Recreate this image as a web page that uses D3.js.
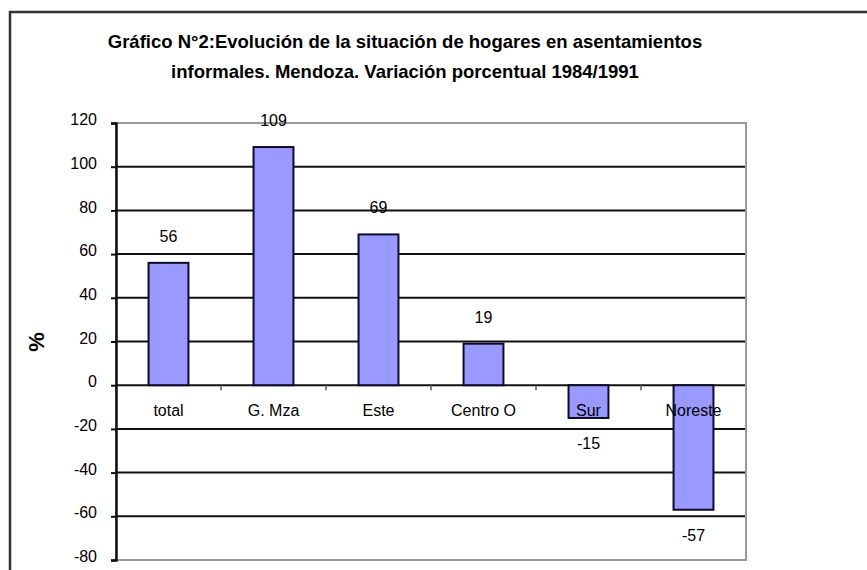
<!DOCTYPE html>
<html>
<head>
<meta charset="utf-8">
<script src="https://cdn.jsdelivr.net/npm/d3@7"></script>
<style>
  body { margin: 0; background: #fff; }
  svg { display: block; font-family: "Liberation Sans", Arial, sans-serif; }
</style>
</head>
<body>
<div id="grafico"></div>
<script>
const categorias = ["total", "G. Mza", "Este", "Centro O", "Sur", "Noreste"];
const valores = [56, 109, 69, 19, -15, -57];
const ticksY = [-80, -60, -40, -20, 0, 20, 40, 60, 80, 100, 120];
const titulo = [
    "Gráfico N°2:Evolución de la situación de hogares en asentamientos",
    "informales. Mendoza. Variación porcentual 1984/1991"
];

const largura = 867;
const altura = 570;
// area do grafico
const esq = 116, dir = 746, topo = 123, base = 560;

const svg = d3.select("#grafico")
    .append("svg")
    .attr("width", largura)
    .attr("height", altura);

// moldura externa
svg.append("rect")
    .attr("x", 10).attr("y", 12)
    .attr("width", 900).attr("height", 600)
    .attr("fill", "none")
    .attr("stroke", "#333")
    .attr("stroke-width", 2.5);

const x = d3.scaleBand()
    .domain(categorias)
    .range([esq, dir])
    .paddingInner(0.62)
    .paddingOuter(0.31);

const y = d3.scaleLinear()
    .domain([-80, 120])
    .range([base, topo]);

// linhas de grade
svg.selectAll(".grade")
    .data(ticksY.filter(d => d > -80 && d < 120))
    .enter()
    .append("line")
    .attr("x1", esq).attr("x2", dir)
    .attr("y1", d => y(d)).attr("y2", d => y(d))
    .attr("stroke", "#111")
    .attr("stroke-width", 2);

// borda da area
svg.append("rect")
    .attr("x", esq).attr("y", topo)
    .attr("width", dir - esq).attr("height", base - topo)
    .attr("fill", "none")
    .attr("stroke", "#999")
    .attr("stroke-width", 2);

// barras
svg.selectAll("rect.bar")
    .data(valores)
    .enter()
    .append("rect")
    .attr("class", "bar")
    .attr("x", (d, i) => x(categorias[i]))
    .attr("width", x.bandwidth())
    .attr("y", d => y(Math.max(d, 0)))
    .attr("height", d => Math.abs(y(d) - y(0)))
    .attr("fill", "#9999FF")
    .attr("stroke", "#0c0c2a")
    .attr("stroke-width", 2);

// eixo y
const eixoY = d3.axisLeft(y).tickValues(ticksY).tickSize(5).tickFormat(d => String(d));
const gY = svg.append("g")
    .attr("transform", `translate(${esq},0)`)
    .call(eixoY);
gY.select(".domain").attr("stroke", "#111").attr("stroke-width", 2.5);
gY.selectAll(".tick line").attr("stroke", "#111").attr("stroke-width", 2);
gY.selectAll(".tick text")
    .attr("x", -19)
    .attr("dy", "0.1em")
    .attr("fill", "#000")
    .style("font-size", "16px")
    .style("font-family", "Liberation Sans, Arial, sans-serif");

// marcas entre categorias no zero
svg.selectAll(".marca")
    .data(categorias.slice(1))
    .enter()
    .append("line")
    .attr("x1", d => x(d) - x.step() * x.paddingInner() / 2)
    .attr("x2", d => x(d) - x.step() * x.paddingInner() / 2)
    .attr("y1", y(0)).attr("y2", y(0) + 5)
    .attr("stroke", "#556")
    .attr("stroke-width", 1.5);

// nomes das categorias
svg.selectAll(".cat")
    .data(categorias)
    .enter()
    .append("text")
    .text(d => d)
    .attr("x", d => x(d) + x.bandwidth() / 2)
    .attr("y", y(0) + 31)
    .attr("text-anchor", "middle")
    .attr("fill", "#000")
    .style("font-size", "16px");

// valores
svg.selectAll(".valor")
    .data(valores)
    .enter()
    .append("text")
    .text(d => d)
    .attr("x", (d, i) => x(categorias[i]) + x.bandwidth() / 2)
    .attr("y", d => d >= 0 ? y(d) - 21 : y(d) + 31)
    .attr("text-anchor", "middle")
    .attr("fill", "#000")
    .style("font-size", "16px");

// rotulo %
svg.append("text")
    .attr("transform", "translate(44,342) rotate(-90)")
    .attr("text-anchor", "middle")
    .style("font-size", "22px")
    .style("font-weight", "bold")
    .text("%");

// titulo
svg.selectAll(".titulo")
    .data(titulo)
    .enter()
    .append("text")
    .text(d => d)
    .attr("x", 405)
    .attr("y", (d, i) => 48 + i * 30)
    .attr("text-anchor", "middle")
    .attr("fill", "#000")
    .style("font-size", "18.5px")
    .style("font-weight", "bold");
</script>
</body>
</html>
